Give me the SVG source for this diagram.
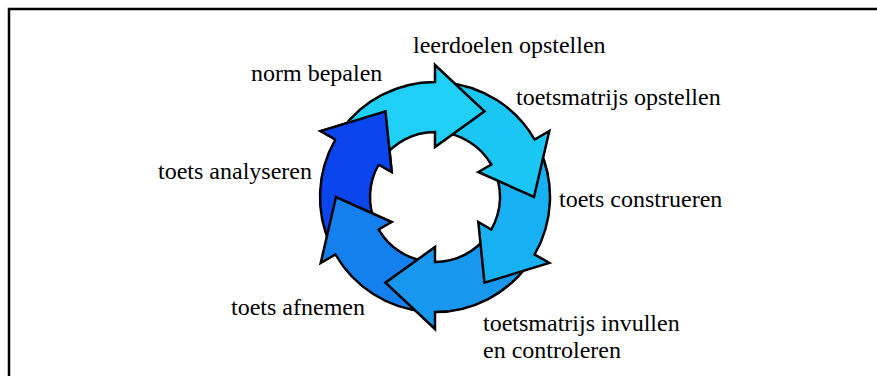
<svg xmlns="http://www.w3.org/2000/svg" width="877" height="376" viewBox="0 0 877 376">
  <style>
    .lbl { font-family: "Liberation Serif", "Times New Roman", serif; font-size: 24px; fill: #000; }
    .arr { stroke: #000; stroke-width: 2.5; stroke-linejoin: miter; stroke-miterlimit: 10; }
    .edge { fill: none; stroke: #000; stroke-width: 2.5; stroke-linejoin: miter; stroke-miterlimit: 10; }
  </style>
  <rect x="0" y="0" width="877" height="376" fill="#fff"/>
  <path d="M9 376 V9 H877" fill="none" stroke="#000" stroke-width="2.5"/>

  <g id="cycle">
    <g id="arrow-analyseren">
      <path class="arr" fill="#0b45ee" d="M330.8 245.6 A115 115 0 0 1 335.4 139.5 L320.7 131 L385.5 111.3 L391.7 172 L378.7 164.5 A65 65 0 0 0 376.1 224.5 Z"/>
    </g>
    <g id="arrow-afnemen">
      <path class="arr" fill="#1480ee" d="M425.0 311.6 A115 115 0 0 1 335.4 254.5 L320.7 263 L336 197 L391.7 222 L378.7 229.5 A65 65 0 0 0 429.3 261.75 Z"/>
    </g>
    <g id="arrow-invullen">
      <path class="arr" fill="#1897ef" d="M529.2 263.0 A115 115 0 0 1 435 312 L435 329 L385.5 282.7 L435 247 L435 262 A65 65 0 0 0 488.25 234.3 Z"/>
    </g>
    <g id="arrow-construeren">
      <path class="arr" fill="#17b1f3" d="M539.2 148.4 A115 115 0 0 1 534.6 254.5 L549.3 263 L484.5 282.7 L478.3 222 L491.3 229.5 A65 65 0 0 0 493.9 169.5 Z"/>
    </g>
    <g id="arrow-toetsmatrijs">
      <path class="arr" fill="#1ac7f4" d="M445.0 82.4 A115 115 0 0 1 534.6 139.5 L549.3 131 L534 197 L478.3 172 L491.3 164.5 A65 65 0 0 0 440.67 132.25 Z"/>
    </g>
    <g id="arrow-leerdoelen">
      <path class="arr" fill="#1fcff6" d="M340.8 131.0 A115 115 0 0 1 435 82 L435 65 L484.5 111.3 L435 147 L435 132 A65 65 0 0 0 381.75 159.7 Z"/>
    </g>
    <g id="arrow-analyseren-head">
      <path fill="#0b45ee" d="M335.4 139.5 L320.7 131 L385.5 111.3 L391.7 172 L378.7 164.5 Z"/>
      <path class="edge" d="M335.4 139.5 L320.7 131 L385.5 111.3 L391.7 172 L378.7 164.5"/>
    </g>
  </g>

  <g id="label-leerdoelen"><text class="lbl" x="413" y="53">leerdoelen opstellen</text></g>
  <g id="label-toetsmatrijs"><text class="lbl" x="516" y="105">toetsmatrijs opstellen</text></g>
  <g id="label-construeren"><text class="lbl" x="559" y="207">toets construeren</text></g>
  <g id="label-invullen"><text class="lbl" x="483" y="331">toetsmatrijs invullen</text><text class="lbl" x="483" y="358">en controleren</text></g>
  <g id="label-afnemen"><text class="lbl" x="231" y="315">toets afnemen</text></g>
  <g id="label-analyseren"><text class="lbl" x="158" y="179">toets analyseren</text></g>
  <g id="label-norm"><text class="lbl" x="251" y="81">norm bepalen</text></g>
</svg>
